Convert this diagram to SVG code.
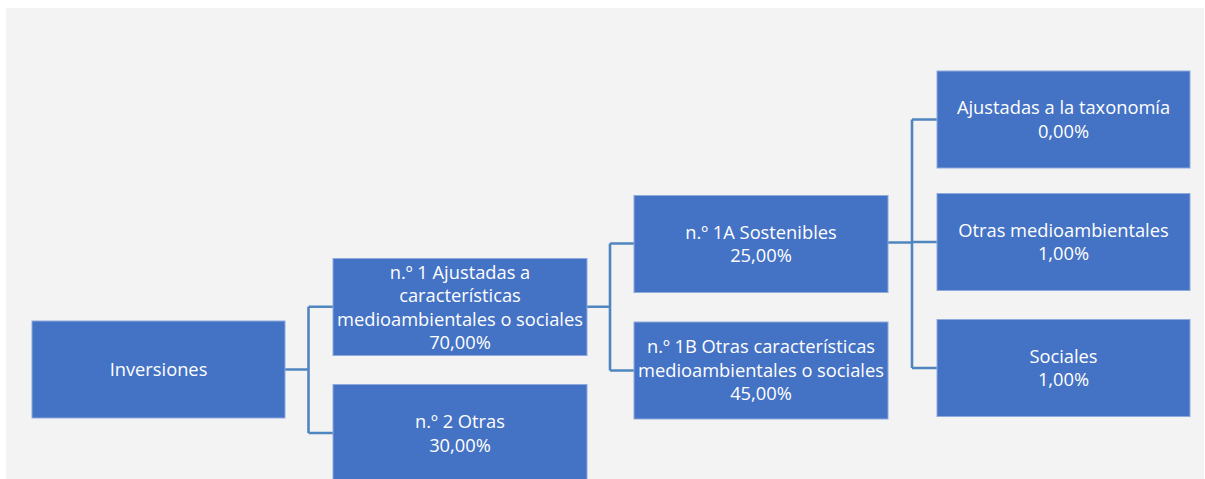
<svg xmlns="http://www.w3.org/2000/svg" width="1205" height="479" viewBox="0 0 1205 479">
<style>
.box{fill:#4472C4;stroke:#8FA9DC;stroke-width:1}
.t{font-family:"Open Sans","Noto Sans",sans-serif;font-size:18.3px;fill:#FFFFFF;text-anchor:middle}
.c{fill:none;stroke:#5086C0;stroke-width:2.6}
</style>
<rect x="0" y="0" width="1205" height="479" fill="#FFFFFF"/>
<rect x="6" y="8" width="1198" height="471" fill="#F3F3F3"/>
<g id="connectors">
<path class="c" d="M285 369.5H308.5M308.5 306.7V433M308.5 306.7H333M308.5 433H333"/>
<path class="c" d="M587 306.7H610M610 243.5V370.5M610 243.5H634M610 370.5H634"/>
<path class="c" d="M888 242.5H912M912 119.5V368M912 119.5H937M912 242H937M912 368H937"/>
</g>
<g id="inversiones">
<rect class="box" x="32" y="321" width="253" height="97"/>
<text class="t" x="158.5" y="376">Inversiones</text>
</g>
<g id="n1">
<rect class="box" x="333" y="258.5" width="254" height="97"/>
<text class="t" x="460" y="279">n.º 1 Ajustadas a</text>
<text class="t" x="460" y="302.3">características</text>
<text class="t" x="460" y="325.7">medioambientales o sociales</text>
<text class="t" x="460" y="349">70,00%</text>
</g>
<g id="n2">
<rect class="box" x="333" y="384.5" width="254" height="97"/>
<text class="t" x="460" y="428.3">n.º 2 Otras</text>
<text class="t" x="460" y="451.5">30,00%</text>
</g>
<g id="n1a">
<rect class="box" x="634" y="195.5" width="254" height="97"/>
<text class="t" x="761" y="239">n.º 1A Sostenibles</text>
<text class="t" x="761" y="262">25,00%</text>
</g>
<g id="n1b">
<rect class="box" x="634" y="322" width="254" height="97"/>
<text class="t" x="761" y="353.3">n.º 1B Otras características</text>
<text class="t" x="761" y="376.5">medioambientales o sociales</text>
<text class="t" x="761" y="399.5">45,00%</text>
</g>
<g id="taxonomia">
<rect class="box" x="937" y="71" width="253" height="97"/>
<text class="t" x="1063.5" y="114.3">Ajustadas a la taxonomía</text>
<text class="t" x="1063.5" y="137.5">0,00%</text>
</g>
<g id="otras-medio">
<rect class="box" x="937" y="193.5" width="253" height="97"/>
<text class="t" x="1063.5" y="236.7">Otras medioambientales</text>
<text class="t" x="1063.5" y="259.5">1,00%</text>
</g>
<g id="sociales">
<rect class="box" x="937" y="319.5" width="253" height="97"/>
<text class="t" x="1063.5" y="362.7">Sociales</text>
<text class="t" x="1063.5" y="385.5">1,00%</text>
</g>
</svg>
